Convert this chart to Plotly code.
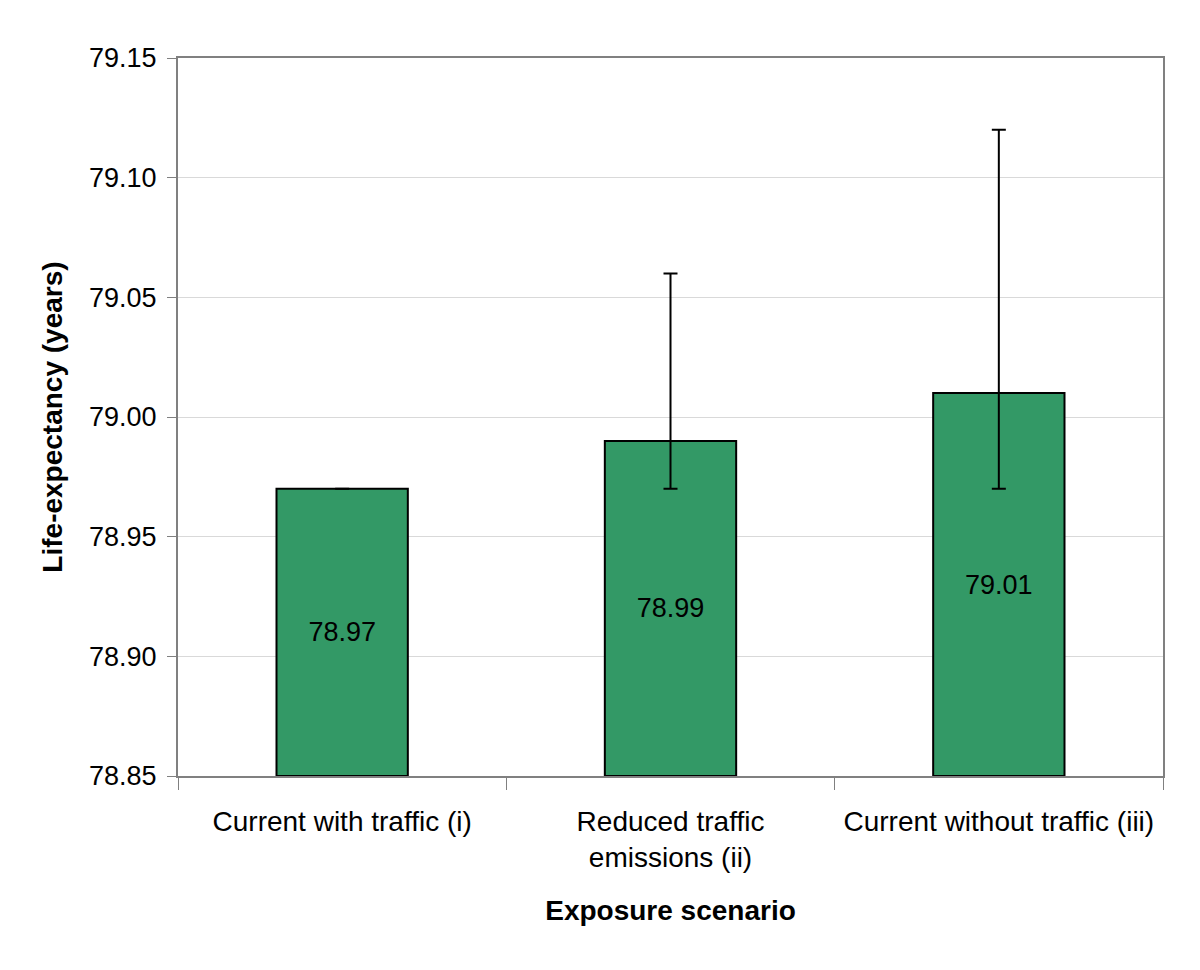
import plotly.graph_objects as go

categories = ["Current with traffic (i)", "Reduced traffic<br>emissions (ii)", "Current without traffic (iii)"]
values = [78.97, 78.99, 79.01]
upper = [78.97, 79.06, 79.12]
lower = [78.97, 78.97, 78.97]
labels = ["78.97", "78.99", "79.01"]
axis_base = 78.85

err_plus = [u - v for u, v in zip(upper, values)]
err_minus = [v - l for v, l in zip(values, lower)]

font_family = "Liberation Sans, Arial, sans-serif"

fig = go.Figure()
fig.add_trace(go.Bar(
    x=categories,
    y=[v - axis_base for v in values],
    base=axis_base,
    text=labels,
    textposition="inside",
    insidetextanchor="middle",
    textfont=dict(size=27, color="black", family=font_family),
    marker=dict(color="#339966", line=dict(color="black", width=2)),
    error_y=dict(type="data", symmetric=False, array=err_plus,
                 arrayminus=err_minus, visible=True,
                 color="black", thickness=2, width=7),
    width=0.4,
))

fig.update_layout(
    width=1200, height=970,
    paper_bgcolor="white", plot_bgcolor="white",
    margin=dict(l=170, r=45, t=50, b=202),
    showlegend=False,
    font=dict(family=font_family, size=28, color="black"),
    xaxis=dict(
        title=dict(text="<b>Exposure scenario</b>", font=dict(size=28), standoff=28),
        tickson="boundaries", ticks="outside", ticklen=12, tickcolor="#808080", tickwidth=1,
        showline=True, linecolor="#808080", linewidth=2, mirror=True,
        tickfont=dict(size=28), ticklabelstandoff=19,
    ),
    yaxis=dict(
        title=dict(text="<b>Life-expectancy (years)</b>", font=dict(size=28), standoff=18),
        range=[78.85, 79.15], dtick=0.05, tickformat=".2f",
        ticks="outside", ticklen=9, tickcolor="#808080", tickwidth=1,
        showline=True, linecolor="#808080", linewidth=2, mirror=True,
        showgrid=True, gridcolor="#d9d9d9", gridwidth=1,
        tickfont=dict(size=27), ticklabelstandoff=5,
    ),
)

fig.write_html("out.html")
